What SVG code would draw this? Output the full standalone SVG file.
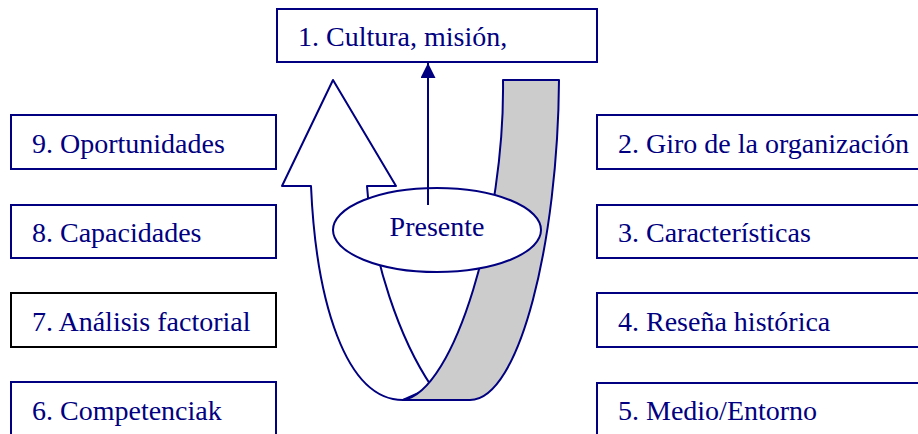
<svg xmlns="http://www.w3.org/2000/svg" width="918" height="434" viewBox="0 0 918 434">
<style>
.box{fill:#fff;stroke:#000080;stroke-width:2}
.boxk{fill:#fff;stroke:#000;stroke-width:2}
.t{font-family:"Liberation Serif",serif;font-size:28px;fill:#000080}
.sh{stroke:#000080;stroke-width:2;stroke-linejoin:round}
</style>
<defs>
<marker id="ah" markerUnits="userSpaceOnUse" markerWidth="16" markerHeight="16" refX="15" refY="7.5" orient="auto">
<path d="M0,0 L15,7.5 L0,15 Z" fill="#000080"/>
</marker>
</defs>
<rect width="918" height="434" fill="#fff"/>
<g id="uarrow">
<path class="sh" fill="#fff" d="M333,80 L396,186 L367,186 C372,260 400,340 432,387 L403,400 C345,400 316,300 311,186 L282,186 Z"/>
<path class="sh" fill="#cccccc" d="M503,80 L559,80 C558,240 520,400 470,400 L403,400 C455,392 505,220 503,80 Z"/>
</g>
<g id="n1"><rect class="box" x="277" y="9" width="320" height="53"/><text class="t" x="298" y="46">1. Cultura, misión,</text></g>
<g id="n2"><rect class="box" x="597" y="115" width="330" height="54"/><text class="t" x="618" y="153">2. Giro de la organización</text></g>
<g id="n3"><rect class="box" x="597" y="205" width="330" height="53"/><text class="t" x="618" y="242">3. Características</text></g>
<g id="n4"><rect class="box" x="597" y="293" width="330" height="54"/><text class="t" x="618" y="331">4. Reseña histórica</text></g>
<g id="n5"><rect class="box" x="597" y="383" width="330" height="60"/><text class="t" x="618" y="420">5. Medio/Entorno</text></g>
<g id="n6"><rect class="box" x="11" y="382" width="265" height="60"/><text class="t" x="32" y="420">6. Competenciak</text></g>
<g id="n7"><rect class="boxk" x="11" y="293" width="265" height="54"/><text class="t" x="32" y="331">7. Análisis factorial</text></g>
<g id="n8"><rect class="box" x="11" y="205" width="265" height="53"/><text class="t" x="32" y="242">8. Capacidades</text></g>
<g id="n9"><rect class="box" x="11" y="115" width="265" height="54"/><text class="t" x="32" y="153">9. Oportunidades</text></g>
<g id="presente"><ellipse class="sh" fill="#fff" cx="437" cy="230" rx="104" ry="42"/><text class="t" x="437" y="236" text-anchor="middle">Presente</text></g>
<g id="connectors">
<line x1="428" y1="205" x2="428" y2="63" stroke="#000080" stroke-width="2" marker-end="url(#ah)"/>
</g>
</svg>
